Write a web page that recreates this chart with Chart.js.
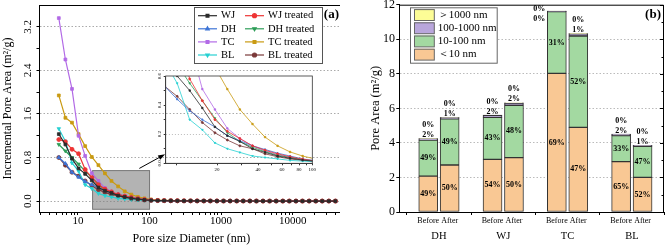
<!DOCTYPE html>
<html>
<head>
<meta charset="utf-8">
<script src="https://cdn.jsdelivr.net/npm/chart.js@4"></script>
<style>
  html, body { margin: 0; padding: 0; background: #fff; }
  #wrap { position: relative; width: 669px; height: 248px; overflow: hidden; }
  #boxA { position: absolute; left: 0; top: 0; width: 340px; height: 248px; overflow: hidden; }
  #boxI { position: absolute; left: 150px; top: 66px; width: 170px; height: 112px; }
  #boxB { position: absolute; left: 340px; top: 0; width: 329px; height: 248px; }
  #fontprobe { position: absolute; left: -999px; top: 0; font-family: 'Liberation Serif'; }
</style>
</head>
<body>
<div id="fontprobe">Pore <b>Area</b></div>
<div id="wrap">
  <div id="boxA"><canvas id="chartA" width="346" height="248"></canvas></div>
  <div id="boxI"><canvas id="chartI" width="170" height="112"></canvas></div>
  <div id="boxB"><canvas id="chartB" width="329" height="248"></canvas></div>
</div>
<script>
// ---- panel (a): incremental pore area vs pore size ----
const poreSize = [5.4, 6.67, 8.25, 10.2, 12.6, 15.6, 19.3, 23.8, 29.4, 36.4, 45.0, 55.6, 68.7, 84.9,
  105, 130, 160, 198, 245, 303, 374, 463, 572, 707, 874, 1080, 1335, 1650, 2040, 2520, 3115,
  3850, 4760, 5880, 7270, 8985, 11100, 13700, 17000, 21000, 25900, 32000, 39600];

const wj = [1.23, 1.04, 0.78, 0.60, 0.50, 0.38, 0.25, 0.19, 0.15, 0.10, 0.075, 0.05, 0.035, 0.022,
  0.014, 0.010, 0.008, 0.006, 0.005, 0.004, 0.004, 0.003, 0.003, 0.003, 0.002, 0.002, 0.002, 0.002,
  0.002, 0.002, 0.001, 0.001, 0.001, 0.001, 0.001, 0.001, 0.001, 0.001, 0.001, 0.001, 0.001, 0.001, 0.001];
const wjTreated = [1.13, 1.09, 0.95, 0.87, 0.58, 0.43, 0.30, 0.22, 0.17, 0.12, 0.09, 0.065, 0.045, 0.028,
  0.017, 0.012, 0.009, 0.007, 0.006, 0.005, 0.004, 0.004, 0.003, 0.003, 0.003, 0.002, 0.002, 0.002,
  0.002, 0.002, 0.002, 0.001, 0.001, 0.001, 0.001, 0.001, 0.001, 0.001, 0.001, 0.001, 0.001, 0.001, 0.001];
const dh = [0.80, 0.69, 0.53, 0.44, 0.36, 0.30, 0.25, 0.19, 0.155, 0.12, 0.095, 0.07, 0.05, 0.03,
  0.018, 0.012, 0.009, 0.007, 0.006, 0.005, 0.004, 0.004, 0.003, 0.003, 0.003, 0.002, 0.002, 0.002,
  0.002, 0.002, 0.002, 0.001, 0.001, 0.001, 0.001, 0.001, 0.001, 0.001, 0.001, 0.001, 0.001, 0.001, 0.001];
const dhTreated = [1.04, 0.92, 0.80, 0.68, 0.55, 0.43, 0.31, 0.21, 0.15, 0.11, 0.08, 0.055, 0.04, 0.025,
  0.015, 0.011, 0.008, 0.006, 0.005, 0.004, 0.004, 0.003, 0.003, 0.003, 0.002, 0.002, 0.002, 0.002,
  0.002, 0.002, 0.001, 0.001, 0.001, 0.001, 0.001, 0.001, 0.001, 0.001, 0.001, 0.001, 0.001, 0.001, 0.001];
const tc = [3.36, 2.60, 2.06, 1.20, 0.83, 0.51, 0.37, 0.24, 0.17, 0.12, 0.085, 0.06, 0.04, 0.025,
  0.015, 0.011, 0.008, 0.006, 0.005, 0.004, 0.004, 0.003, 0.003, 0.003, 0.002, 0.002, 0.002, 0.002,
  0.002, 0.002, 0.001, 0.001, 0.001, 0.001, 0.001, 0.001, 0.001, 0.001, 0.001, 0.001, 0.001, 0.001, 0.001];
const tcTreated = [1.94, 1.53, 1.44, 1.23, 1.01, 0.81, 0.66, 0.51, 0.37, 0.27, 0.18, 0.12, 0.078, 0.05,
  0.03, 0.02, 0.014, 0.010, 0.008, 0.006, 0.005, 0.004, 0.004, 0.003, 0.003, 0.003, 0.002, 0.002,
  0.002, 0.002, 0.002, 0.002, 0.001, 0.001, 0.001, 0.001, 0.001, 0.001, 0.001, 0.001, 0.001, 0.001, 0.001];
const bl = [1.33, 1.10, 0.70, 0.55, 0.30, 0.23, 0.14, 0.10, 0.075, 0.05, 0.04, 0.03, 0.02, 0.015,
  0.010, 0.008, 0.006, 0.005, 0.004, 0.004, 0.003, 0.003, 0.003, 0.002, 0.002, 0.002, 0.002, 0.002,
  0.002, 0.001, 0.001, 0.001, 0.001, 0.001, 0.001, 0.001, 0.001, 0.001, 0.001, 0.001, 0.001, 0.001, 0.001];
const blTreated = [0.80, 0.66, 0.53, 0.46, 0.37, 0.28, 0.21, 0.16, 0.12, 0.10, 0.065, 0.045, 0.03, 0.02,
  0.013, 0.009, 0.007, 0.006, 0.005, 0.004, 0.004, 0.003, 0.003, 0.003, 0.002, 0.002, 0.002, 0.002,
  0.002, 0.002, 0.001, 0.001, 0.001, 0.001, 0.001, 0.001, 0.001, 0.001, 0.001, 0.001, 0.001, 0.001, 0.001];

const decadeLabels = [10, 100, 1000, 10000];
const insetXLabels = [20, 40, 60, 80, 100];

// ---- panel (b): pore area by size class ----
const groups = ['DH', 'WJ', 'TC', 'BL'];
const states = ['Before', 'After'];
const sizeClasses = ['＜10 nm', '10-100 nm', '100-1000 nm', '＞1000 nm'];
const areaLt10 = [2.08, 2.72, 3.05, 3.15, 8.02, 4.90, 2.92, 2.00];
const area10to100 = [2.08, 2.68, 2.43, 3.03, 3.58, 5.29, 1.50, 1.80];
const area100to1000 = [0.08, 0.07, 0.12, 0.13, 0.03, 0.13, 0.08, 0.06];
const areaGt1000 = [0.005, 0.005, 0.005, 0.005, 0.005, 0.005, 0.005, 0.005];
const pctLt10 = ['49%', '50%', '54%', '50%', '69%', '47%', '65%', '52%'];
const pct10to100 = ['49%', '49%', '43%', '48%', '31%', '52%', '33%', '47%'];
const pct100to1000 = ['2%', '1%', '2%', '2%', '0%', '1%', '2%', '1%'];
const pctGt1000 = ['0%', '0%', '0%', '0%', '0%', '0%', '0%', '0%'];

const serif = "'Liberation Serif', 'Times New Roman', serif";
Chart.defaults.font.family = serif;
Chart.defaults.color = '#000';
const f = size => ({family: serif, size});

const lineSeries = [
  ['WJ', wj, '#2b2b2b', 'rect', 0],
  ['WJ treated', wjTreated, '#ee3434', 'circle', 0],
  ['DH', dh, '#3d74d6', 'triangle', 0],
  ['DH treated', dhTreated, '#2e9e58', 'triangle', 180],
  ['TC', tc, '#b26ae6', 'rect', 0],
  ['TC treated', tcTreated, '#c99a12', 'rect', 0],
  ['BL', bl, '#27d0d2', 'triangle', 180],
  ['BL treated', blTreated, '#7a3838', 'circle', 0]
];

function makeDatasets(radius, width) {
  return lineSeries.map(([label, data, color, style, rot]) => ({
    label, data: data.slice(), borderColor: color, backgroundColor: color,
    pointStyle: style, pointRotation: rot, pointRadius: radius, pointHoverRadius: radius,
    pointBorderWidth: 0.8, borderWidth: width, tension: 0
  }));
}

function logTicks(from, to) {
  const out = [];
  for (let d = 1; d <= 10000; d *= 10)
    for (let m = 1; m <= 9; m++) { const v = m * d; if (v >= from && v <= to) out.push({value: v}); }
  return out;
}

const zoomBox = {xMin: 16, xMax: 100, yMin: -0.15, yMax: 0.56};
const arrowA = {from: [72, 0.6], to: [165, 0.86]};

const overlayA = {
  id: 'overlayA',
  beforeDatasetsDraw(chart) {
    const {ctx, scales: {x, y}} = chart;
    const l = x.getPixelForValue(zoomBox.xMin), r = x.getPixelForValue(zoomBox.xMax);
    const t = y.getPixelForValue(zoomBox.yMax), b = y.getPixelForValue(zoomBox.yMin);
    ctx.save();
    ctx.fillStyle = 'rgba(128,128,128,0.6)';
    ctx.fillRect(l, t, r - l, b - t);
    ctx.strokeStyle = '#777';
    ctx.lineWidth = 1;
    ctx.strokeRect(l, t, r - l, b - t);
    ctx.restore();
  },
  afterDraw(chart) {
    const {ctx, chartArea: ca, scales: {x, y}} = chart;
    ctx.save();
    ctx.strokeStyle = '#000';
    ctx.lineWidth = 1;
    ctx.beginPath();
    ctx.moveTo(ca.left, ca.top + 0.5);
    ctx.lineTo(ca.right, ca.top + 0.5);
    ctx.stroke();

    // arrow to the inset
    const x0 = x.getPixelForValue(arrowA.from[0]), y0 = y.getPixelForValue(arrowA.from[1]);
    const x1 = x.getPixelForValue(arrowA.to[0]), y1 = y.getPixelForValue(arrowA.to[1]);
    const ang = Math.atan2(y1 - y0, x1 - x0);
    ctx.beginPath();
    ctx.moveTo(x0, y0);
    ctx.lineTo(x1 - 5 * Math.cos(ang), y1 - 5 * Math.sin(ang));
    ctx.stroke();
    ctx.fillStyle = '#000';
    ctx.beginPath();
    ctx.moveTo(x1, y1);
    ctx.lineTo(x1 - 7 * Math.cos(ang) + 2.5 * Math.sin(ang), y1 - 7 * Math.sin(ang) - 2.5 * Math.cos(ang));
    ctx.lineTo(x1 - 7 * Math.cos(ang) - 2.5 * Math.sin(ang), y1 - 7 * Math.sin(ang) + 2.5 * Math.cos(ang));
    ctx.closePath();
    ctx.fill();

    // legend, two columns
    const bx = 194, by = 7, bw = 128, bh = 56;
    ctx.fillStyle = '#fff';
    ctx.fillRect(bx, by, bw, bh);
    ctx.strokeStyle = '#555';
    ctx.strokeRect(bx + 0.5, by + 0.5, bw, bh);
    ctx.font = '10.5px ' + serif;
    ctx.textBaseline = 'middle';
    chart.data.datasets.forEach((ds, i) => {
      const col = i % 2, row = Math.floor(i / 2);
      const lx = col ? 245 : 198, ly = 15.7 + row * 13.1;
      ctx.strokeStyle = ds.borderColor;
      ctx.fillStyle = ds.borderColor;
      ctx.lineWidth = 1.2;
      ctx.beginPath();
      ctx.moveTo(lx, ly);
      ctx.lineTo(lx + 19, ly);
      ctx.stroke();
      Chart.helpers.drawPoint(ctx, {pointStyle: ds.pointStyle, radius: 2, rotation: ds.pointRotation, borderWidth: 0.8}, lx + 9.5, ly);
      ctx.fillStyle = '#000';
      ctx.textAlign = 'left';
      ctx.fillText(ds.label, lx + 23, ly);
    });

    ctx.font = 'bold 13px ' + serif;
    ctx.textAlign = 'right';
    ctx.fillText('(a)', 339, 15);
    ctx.restore();
  }
};

const frameInset = {
  id: 'frameInset',
  afterDraw(chart) {
    const {ctx, chartArea: ca} = chart;
    ctx.save();
    ctx.strokeStyle = '#333';
    ctx.lineWidth = 0.8;
    ctx.strokeRect(ca.left, ca.top, ca.right - ca.left, ca.bottom - ca.top);
    ctx.restore();
  }
};

const classColors = ['#f9c894', '#a3d9a1', '#b9a6dc', '#fdfd96'];
const classAreas = [areaLt10, area10to100, area100to1000, areaGt1000];
const barX = i => Math.floor(i / 2) * 3 + 1 + (i % 2);

const overlayB = {
  id: 'overlayB',
  afterDatasetsDraw(chart) {
    const {ctx, chartArea} = chart;
    const metas = [0, 1, 2, 3].map(d => chart.getDatasetMeta(d));
    ctx.save();
    ctx.font = 'bold 8px ' + serif;
    ctx.fillStyle = '#000';
    metas[0].data.forEach((el0, i) => {
      const el1 = metas[1].data[i];
      ctx.textAlign = 'center';
      ctx.textBaseline = 'middle';
      ctx.fillText(pctLt10[i], el0.x, (el0.y + el0.base) / 2);
      ctx.fillText(pct10to100[i], el1.x, (el1.y + el1.base) / 2);
      const top = metas[3].data[i].y;
      if (top - 20 < chartArea.top) {
        ctx.textAlign = 'right';
        const xr = el0.x - el0.width / 2 - 2;
        ctx.fillText(pctGt1000[i], xr, top - 2);
        ctx.fillText(pct100to1000[i], xr, top + 8.3);
      } else {
        ctx.textBaseline = 'alphabetic';
        ctx.fillText(pct100to1000[i], el0.x, top - 1.6);
        ctx.fillText(pctGt1000[i], el0.x, top - 11.6);
      }
    });
    ctx.restore();
  },
  afterDraw(chart) {
    const {ctx, chartArea: ca, scales: {x, y}} = chart;
    ctx.save();
    ctx.strokeStyle = '#000';
    ctx.lineWidth = 1;
    ctx.beginPath();
    ctx.moveTo(ca.left, ca.top + 0.5);
    ctx.lineTo(ca.right - 0.5, ca.top + 0.5);
    ctx.lineTo(ca.right - 0.5, ca.bottom);
    for (let v = 0; v <= 12; v++) {
      const py = Math.round(y.getPixelForValue(v)) + 0.5;
      ctx.moveTo(ca.right, py);
      ctx.lineTo(ca.right - (v % 2 ? 2.5 : 4), py);
    }
    ctx.stroke();

    // group names under the Before / After labels
    ctx.fillStyle = '#000';
    ctx.font = '10.5px ' + serif;
    ctx.textAlign = 'center';
    ctx.textBaseline = 'middle';
    groups.forEach((g, i) => ctx.fillText(g, x.getPixelForValue(i * 3 + 1.5), 236.7));

    // legend
    const bx = 70, by = 7.3, bw = 86.7, bh = 55.4;
    ctx.fillStyle = '#fff';
    ctx.fillRect(bx, by, bw, bh);
    ctx.strokeStyle = '#666';
    ctx.strokeRect(bx + 0.5, by + 0.5, bw, bh);
    ctx.font = '11px ' + serif;
    ctx.textAlign = 'left';
    for (let r = 0; r < 4; r++) {
      const c = 3 - r, ry = 14.8 + r * 13.2;
      ctx.fillStyle = classColors[c];
      ctx.fillRect(74, ry - 5.7, 20.3, 11.4);
      ctx.strokeStyle = '#666';
      ctx.strokeRect(74.5, ry - 5.2, 19.8, 10.9);
      ctx.fillStyle = '#000';
      ctx.fillText(sizeClasses[c], 97.7, ry);
    }
    ctx.font = 'bold 13px ' + serif;
    ctx.textAlign = 'right';
    ctx.fillText('(b)', 321, 15);
    ctx.restore();
  }
};

const charts = [];

function draw() {
  charts.push(new Chart(document.getElementById('chartA'), {
    type: 'line',
    data: {labels: poreSize.slice(), datasets: makeDatasets(2, 1.2)},
    options: {
      responsive: false, animation: false, devicePixelRatio: 1,
      layout: {padding: {top: 5, right: 0, left: 0, bottom: 0}},
      plugins: {legend: {display: false}, tooltip: {enabled: false}},
      scales: {
        x: {
          type: 'logarithmic', min: 2.9, max: 50800,
          afterBuildTicks: s => { s.ticks = logTicks(3, 50000); },
          ticks: {autoSkip: false, maxRotation: 0, padding: 0, font: f(11),
            callback: v => decadeLabels.includes(v) ? String(v) : ''},
          grid: {drawOnChartArea: false, tickLength: 3, color: '#000', tickColor: '#000'},
          border: {color: '#000', width: 1},
          title: {display: true, text: 'Pore size Diameter (nm)', font: f(12), padding: {top: 0, bottom: 2}},
          afterFit: s => { s.height = 36; s.paddingLeft = 0; s.paddingRight = 0; }
        },
        y: {
          min: -0.2, max: 3.6,
          afterBuildTicks: s => { s.ticks = [0, 1, 2, 3, 4, 5, 6, 7, 8].map(i => ({value: i * 4 / 10})); },
          ticks: {minRotation: 90, maxRotation: 90, crossAlign: 'center', padding: 1.9, font: f(11),
            callback: v => Math.round(v * 10) % 8 === 0 ? v.toFixed(1) : ''},
          grid: {color: c => (c.tick && Math.round(c.tick.value * 10) % 8 === 0) ? '#aaa' : 'rgba(0,0,0,0)',
            tickColor: '#000', tickLength: 3},
          border: {color: '#000', dash: [1.5, 2]},
          title: {display: true, text: 'Incremental Pore Area (m²/g)', font: f(12), padding: {top: 0.8, bottom: 0}},
          afterFit: s => { s.width = 39.5; s.paddingTop = 0; s.paddingBottom = 0; }
        }
      }
    },
    plugins: [overlayA]
  }));

  charts.push(new Chart(document.getElementById('chartI'), {
    type: 'line',
    data: {labels: poreSize.slice(), datasets: makeDatasets(1, 0.8)},
    options: {
      responsive: false, animation: false, devicePixelRatio: 1,
      layout: {padding: {top: 10, right: 7.7, left: 0, bottom: 0}},
      plugins: {legend: {display: false}, tooltip: {enabled: false}},
      scales: {
        x: {
          type: 'logarithmic', min: 8.4, max: 100,
          afterBuildTicks: s => { s.ticks = logTicks(10, 100); },
          ticks: {autoSkip: false, maxRotation: 0, padding: 1, font: f(5),
            callback: v => insetXLabels.includes(v) ? String(v) : ''},
          grid: {drawOnChartArea: false, tickLength: 2, color: '#333', tickColor: '#333'},
          border: {color: '#333', width: 0.8},
          afterFit: s => { s.height = 14.7; s.paddingLeft = 0; s.paddingRight = 0; }
        },
        y: {
          min: 0, max: 0.6,
          afterBuildTicks: s => { s.ticks = [0, 1, 2, 3, 4, 5, 6].map(i => ({value: i / 10})); },
          ticks: {minRotation: 90, maxRotation: 90, crossAlign: 'center', padding: 1, font: f(5),
            callback: v => Math.round(v * 10) % 2 === 0 ? v.toFixed(1) : ''},
          grid: {color: c => (c.tick && Math.round(c.tick.value * 10) === 2) ? '#bbb' : 'rgba(0,0,0,0)',
            tickColor: '#333', tickLength: 2},
          border: {color: '#333', width: 0.8, dash: [1, 2]},
          afterFit: s => { s.width = 15.7; s.paddingTop = 0; s.paddingBottom = 0; }
        }
      }
    },
    plugins: [frameInset]
  }));

  charts.push(new Chart(document.getElementById('chartB'), {
    type: 'bar',
    data: {
      datasets: classAreas.map((arr, c) => ({
        label: sizeClasses[c],
        data: arr.map((v, i) => ({x: barX(i), y: v})),
        backgroundColor: classColors[c], borderColor: '#333', borderWidth: 1,
        borderSkipped: false, barThickness: 19
      }))
    },
    options: {
      responsive: false, animation: false, devicePixelRatio: 1,
      layout: {padding: {top: 4.7, right: 5, left: 0, bottom: 20}},
      plugins: {legend: {display: false}, tooltip: {enabled: false}},
      scales: {
        x: {
          type: 'linear', min: -0.35, max: 12, stacked: true, offset: false,
          afterBuildTicks: s => { s.ticks = [...Array(13).keys()].map(v => ({value: v})); },
          ticks: {autoSkip: false, maxRotation: 0, padding: 1.5, font: f(8),
            callback: v => (v % 3 === 0) ? '' : states[(v % 3) - 1]},
          grid: {drawOnChartArea: false, offset: false, tickLength: 3,
            tickColor: c => (c.tick && c.tick.value % 3 === 0) ? '#000' : 'rgba(0,0,0,0)'},
          border: {color: '#000', width: 1},
          afterFit: s => { s.height = 16; s.paddingLeft = 0; s.paddingRight = 0; }
        },
        y: {
          stacked: true, min: 0, max: 12,
          afterBuildTicks: s => { s.ticks = [...Array(13).keys()].map(v => ({value: v})); },
          ticks: {padding: 1.3, font: f(12), callback: v => v % 2 === 0 ? String(v) : ''},
          grid: {color: c => (c.tick && c.tick.value % 2 === 0 && c.tick.value > 0 && c.tick.value < 12) ? '#bbb' : 'rgba(0,0,0,0)',
            tickColor: '#000', tickLength: 3},
          border: {color: '#000', dash: [1.5, 2]},
          title: {display: true, text: 'Pore Area (m²/g)', font: f(12.5), padding: {top: 28.2, bottom: 0}},
          afterFit: s => { s.width = 59.3; s.paddingTop = 0; s.paddingBottom = 0; }
        }
      }
    },
    plugins: [overlayB]
  }));
}

draw();
if (document.fonts && document.fonts.load) {
  Promise.all([
    document.fonts.load('12px "Liberation Serif"'),
    document.fonts.load('bold 12px "Liberation Serif"')
  ]).then(() => charts.forEach(c => c.update('none')));
}
</script>
</body>
</html>
